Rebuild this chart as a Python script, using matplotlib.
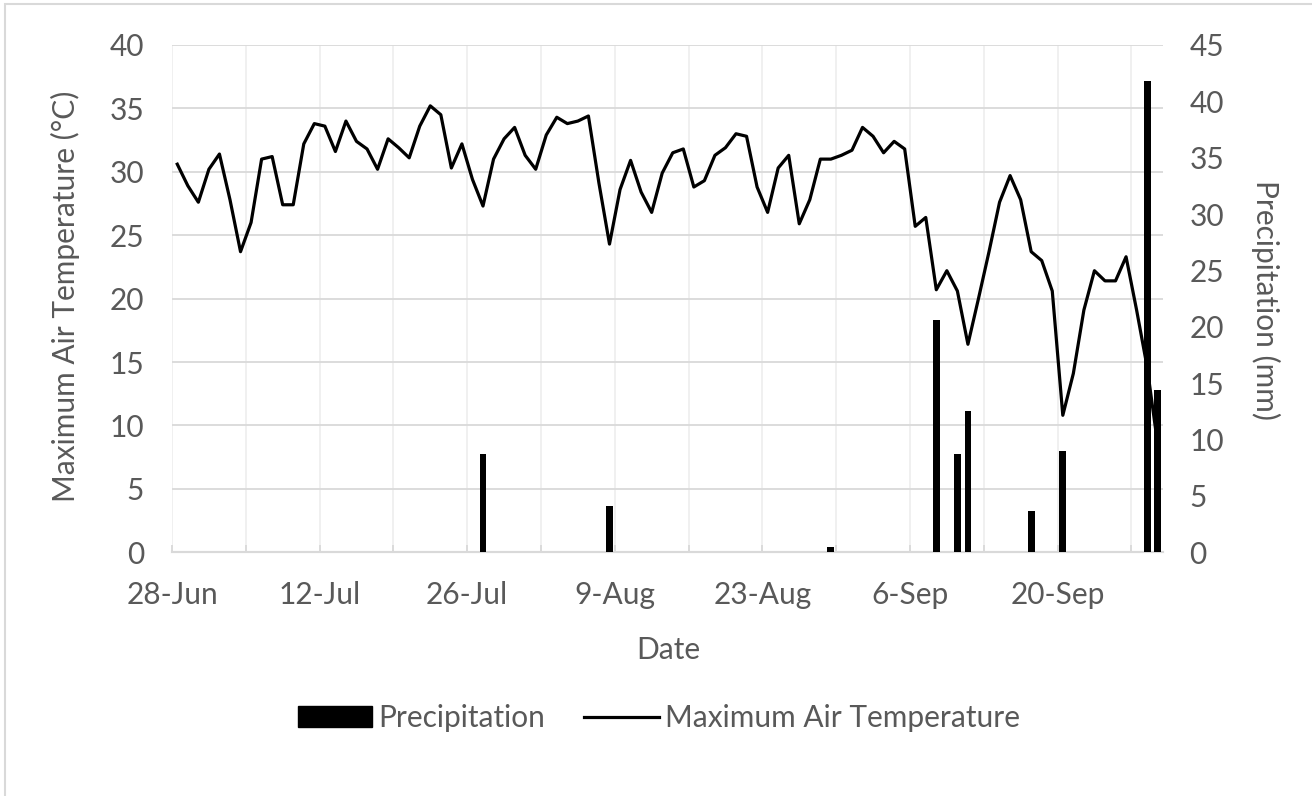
import numpy as np
import pandas as pd
import matplotlib
matplotlib.use('Agg')
import matplotlib.pyplot as plt
from matplotlib.patches import Rectangle, Patch
from matplotlib.lines import Line2D

plt.rcParams['font.family'] = ['Lato', 'DejaVu Sans']

# daily maximum air temperature (°C), starting 28-Jun
tmax = [30.6, 28.9, 27.6, 30.2, 31.4, 27.8, 23.7, 26.0, 31.0, 31.2,
        27.4, 27.4, 32.2, 33.8, 33.6, 31.6, 34.0, 32.4, 31.8, 30.2,
        32.6, 31.9, 31.1, 33.6, 35.2, 34.5, 30.3, 32.2, 29.4, 27.3,
        31.0, 32.6, 33.5, 31.3, 30.2, 32.9, 34.3, 33.8, 34.0, 34.4,
        29.1, 24.3, 28.6, 30.9, 28.4, 26.8, 29.9, 31.5, 31.8, 28.8,
        29.3, 31.3, 31.9, 33.0, 32.8, 28.8, 26.8, 30.3, 31.3, 25.9,
        27.8, 31.0, 31.0, 31.3, 31.7, 33.5, 32.8, 31.5, 32.4, 31.8,
        25.7, 26.4, 20.7, 22.2, 20.6, 16.4, 20.0, 23.7, 27.6, 29.7,
        27.8, 23.7, 23.0, 20.6, 10.8, 14.1, 19.1, 22.2, 21.4, 21.4,
        23.3, 19.1, 14.6, 8.5]

# days with rain (mm)
rain_days = ['2021-07-27', '2021-08-08', '2021-08-29', '2021-09-08', '2021-09-10',
             '2021-09-11', '2021-09-17', '2021-09-20', '2021-09-28', '2021-09-29']
rain_mm = [8.7, 4.1, 0.5, 20.6, 8.7, 12.5, 3.7, 9.0, 41.8, 14.4]

dates = pd.date_range('2021-06-28', periods=len(tmax), freq='D')
rain = pd.Series(rain_mm, index=pd.to_datetime(rain_days)).reindex(dates, fill_value=0.0)
xmid = dates + pd.Timedelta(hours=12)

grey_txt = '#595959'
grid_c = '#d9d9d9'
fs = 21.5

W, H = 1312, 796
fig = plt.figure(figsize=(W / 100, H / 100), dpi=100)
ax = fig.add_axes([0.1311, 0.3062, 0.7553, 0.6373])
ax2 = ax.twinx()

ax.plot(xmid, tmax, color='black', lw=2.3, zorder=3)
ax2.bar(xmid, rain.values, width=0.65, color='black', zorder=3)

ax.set_xlim(dates[0], dates[-1] + pd.Timedelta(days=1))
ax.set_ylim(0, 40)
ax.set_yticks(np.arange(0, 41, 5))
ax2.set_ylim(0, 45)
ax2.set_yticks(np.arange(0, 46, 5))

weeks = pd.date_range(dates[0], dates[-1], freq='7D')
ax.set_xticks(weeks)
ax.set_xticklabels([d.strftime('%-d-%b') if i % 2 == 0 else '' for i, d in enumerate(weeks)])

ax.grid(axis='y', color=grid_c, lw=1.3)
ax.grid(axis='x', color='#efefef', lw=1.3)
ax.set_axisbelow(True)

for a in (ax, ax2):
    for s in ('top', 'left', 'right'):
        a.spines[s].set_visible(False)
    a.spines['bottom'].set_color(grid_c)
    a.spines['bottom'].set_linewidth(1.5)

ax.tick_params(axis='x', direction='in', length=5, color=grid_c, width=1.3,
               labelsize=fs, labelcolor=grey_txt, pad=21)
ax.tick_params(axis='y', length=0, labelsize=fs, labelcolor=grey_txt, pad=20)
ax2.tick_params(axis='y', length=0, labelsize=fs, labelcolor=grey_txt, pad=19)

# axis titles
fig.text(668 / W, 1 - 650 / H, 'Date', fontsize=fs, color=grey_txt, ha='center', va='center')
fig.text(65 / W, 1 - 296 / H, 'Maximum Air Temperature (°C)', fontsize=fs, color=grey_txt,
         rotation=90, ha='center', va='center')
fig.text(1266 / W, 1 - 300 / H, 'Precipitation (mm)', fontsize=fs, color=grey_txt,
         rotation=270, ha='center', va='center')

handles = [Patch(facecolor='black', edgecolor='black'),
           Line2D([0], [0], color='black', lw=2.3)]
fig.legend(handles, ['Precipitation', 'Maximum Air Temperature'], loc='center',
           bbox_to_anchor=(0.502, 1 - 718 / H), ncol=2, frameon=False, fontsize=fs,
           labelcolor=grey_txt, handlelength=2.5, handleheight=0.7,
           handletextpad=0.2, columnspacing=1.3)

# chart border
fig.add_artist(Rectangle((4.5 / W, -0.1), 1.2, 1.1 - 4.5 / H, transform=fig.transFigure,
                         fill=False, ec=grid_c, lw=1.5))

fig.savefig('out.png', dpi=100)
